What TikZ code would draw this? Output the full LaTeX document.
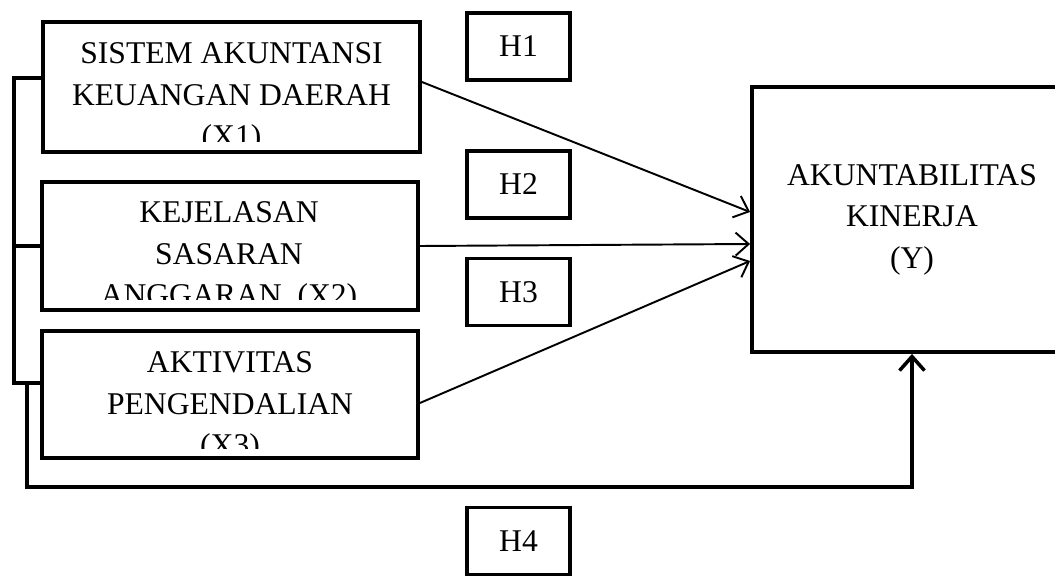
\documentclass[tikz,border=0pt]{standalone}
\usepackage{fontspec}
\setmainfont{Liberation Serif}
\usetikzlibrary{arrows.meta}

\tikzset{
  varbox/.style={draw, line width=2.2pt, inner sep=0pt, minimum width=7.52cm},
  hbox/.style={draw, line width=2.2pt, minimum width=2.06cm, minimum height=1.34cm},
  vartext/.style={align=center},
  bracket/.style={line width=2pt},
  arr/.style={line width=1.1pt, -{Straight Barb[length=2.6mm,width=4.6mm]}}
}

\begin{document}
\begin{tikzpicture}[font=\fontsize{18}{23.6}\selectfont]
\clip (0,0) rectangle (21.1,-11.52);

\draw (4.63,-1.74) node (x1) [varbox, minimum width=7.54cm, minimum height=2.6cm] {};
\begin{scope}
\clip ([yshift=0.24cm]x1.south west) rectangle (x1.north east);
\draw (4.63,-1.96) node (t1) [vartext] {SISTEM AKUNTANSI\\KEUANGAN DAERAH\\(X1)};
\end{scope}

\draw (4.6,-4.92) node (x2) [varbox, minimum height=2.56cm] {};
\begin{scope}
\clip ([yshift=0.24cm]x2.south west) rectangle (x2.north east);
\draw (4.58,-5.14) node (t2) [vartext] {KEJELASAN\\SASARAN\\ANGGARAN\ \ (X2)};
\end{scope}

\draw (4.6,-7.89) node (x3) [varbox, minimum height=2.54cm] {};
\begin{scope}
\clip ([yshift=0.22cm]x3.south west) rectangle (x3.north east);
\draw (4.6,-8.14) node (t3) [vartext] {AKTIVITAS\\PENGENDALIAN\\(X3)};
\end{scope}

\draw (18.24,-4.39) node (y) [draw, line width=2.2pt, minimum width=6.4cm, minimum height=5.3cm, align=center] {AKUNTABILITAS\\KINERJA\\(Y)};

\draw (10.37,-0.93) node (h1) [hbox] {H1};
\draw (10.37,-3.69) node (h2) [hbox] {H2};
\draw (10.37,-5.84) node (h3) [hbox] {H3};
\draw (10.37,-10.82) node (h4) [hbox] {H4};

\draw[arr] ([yshift=0.1cm]x1.east) -- ([yshift=0.15cm]y.west);
\draw[arr] (x2.east) -- ([yshift=-0.49cm]y.west);
\draw[arr] ([yshift=-0.17cm]x3.east) -- ([yshift=-0.83cm]y.west);

\coordinate (bt) at (0.28,-1.56);
\coordinate (bb) at (0.28,-7.66);
\draw[bracket] ([yshift=0.18cm]x1.west) -- (bt) -- (bb) -- ([yshift=0.23cm]x3.west);
\draw[bracket] (x2.west) -- (x2.west -| bt);

\coordinate (ls) at (0.54,-7.66);
\coordinate (lc) at (0.54,-9.74);
\draw[bracket, -{Straight Barb[length=2.8mm,width=5mm]}] (ls) -- (lc) -| (y.south);
\end{tikzpicture}
\end{document}
